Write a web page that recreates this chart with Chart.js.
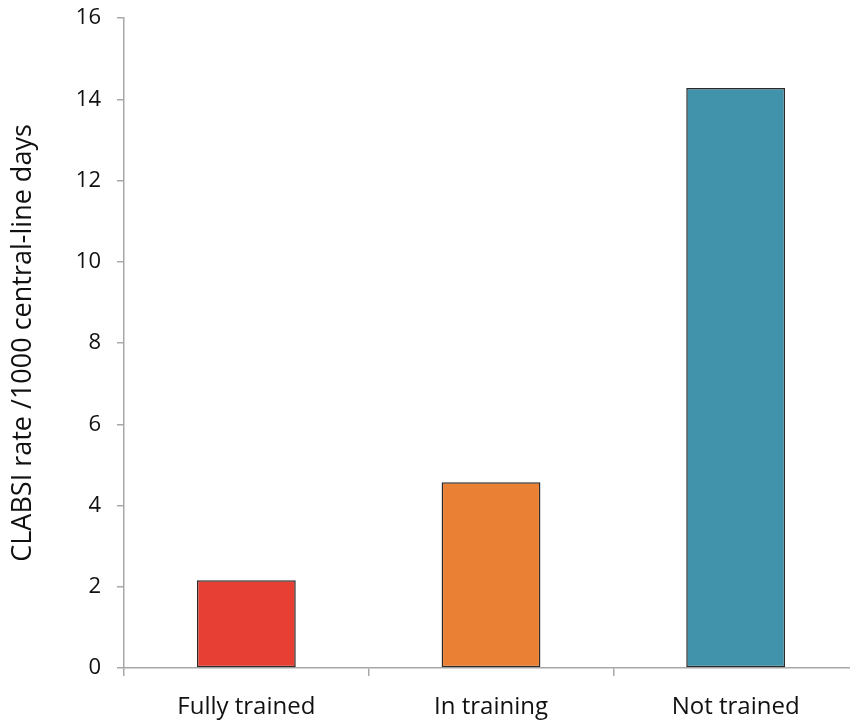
<!DOCTYPE html>
<html>
<head>
<meta charset="utf-8">
<script src="https://cdn.jsdelivr.net/npm/chart.js@4/dist/chart.umd.min.js"></script>
<style>
  html, body { margin: 0; padding: 0; background: #fff; overflow: hidden; }
  #wrap { width: 850px; height: 720px; overflow: hidden; }
</style>
</head>
<body>
<div id="wrap"><canvas id="c" width="870" height="720"></canvas></div>
<script>
// CLABSI rate by training status
const categories = ['Fully trained', 'In training', 'Not trained'];
const rates = [2.16, 4.57, 14.28];
const barColors = ['#E83F34', '#E98034', '#4193AB'];
const yTicks = [0, 2, 4, 6, 8, 10, 12, 14, 16];
const yTitle = 'CLABSI rate /1000 central-line days';

const fontFamily = '"Open Sans", "DejaVu Sans", sans-serif';

new Chart(document.getElementById('c'), {
  type: 'bar',
  data: {
    labels: categories,
    datasets: [{
      data: rates,
      backgroundColor: barColors,
      borderColor: '#2b2b2b',
      borderWidth: 1.5,
      borderSkipped: false,
      categoryPercentage: 1,
      barPercentage: 0.404
    }]
  },
  options: {
    responsive: false,
    animation: false,
    layout: { padding: { top: 18, right: 12, left: 0, bottom: 0 } },
    plugins: { legend: { display: false }, tooltip: { enabled: false } },
    scales: {
      x: {
        offset: true,
        grid: {
          offset: true,
          drawOnChartArea: false,
          drawTicks: true,
          tickLength: 8,
          color: '#a8a8a8',
          lineWidth: 1.5
        },
        border: { color: '#a8a8a8', width: 1.5 },
        ticks: {
          color: '#111',
          padding: 17,
          font: { family: fontFamily, size: 24 }
        },
        afterFit: s => { s.height = 52; s.paddingLeft = 0; s.paddingRight = 0; }
      },
      y: {
        min: yTicks[0],
        max: yTicks[yTicks.length - 1],
        afterBuildTicks: s => { s.ticks = yTicks.map(v => ({ value: v })); },
        grid: {
          drawOnChartArea: false,
          drawTicks: true,
          tickLength: 7,
          color: '#a8a8a8',
          lineWidth: 1.5
        },
        border: { color: '#a8a8a8', width: 1.5 },
        ticks: {
          color: '#111',
          padding: 16,
          font: { family: fontFamily, size: 22 }
        },
        title: {
          display: true,
          text: yTitle,
          color: '#111',
          padding: { top: 7, bottom: 0 },
          font: { family: fontFamily, size: 27 }
        },
        afterFit: s => { s.width = 124; s.paddingTop = 0; s.paddingBottom = 0; }
      }
    }
  }
});
</script>
</body>
</html>
